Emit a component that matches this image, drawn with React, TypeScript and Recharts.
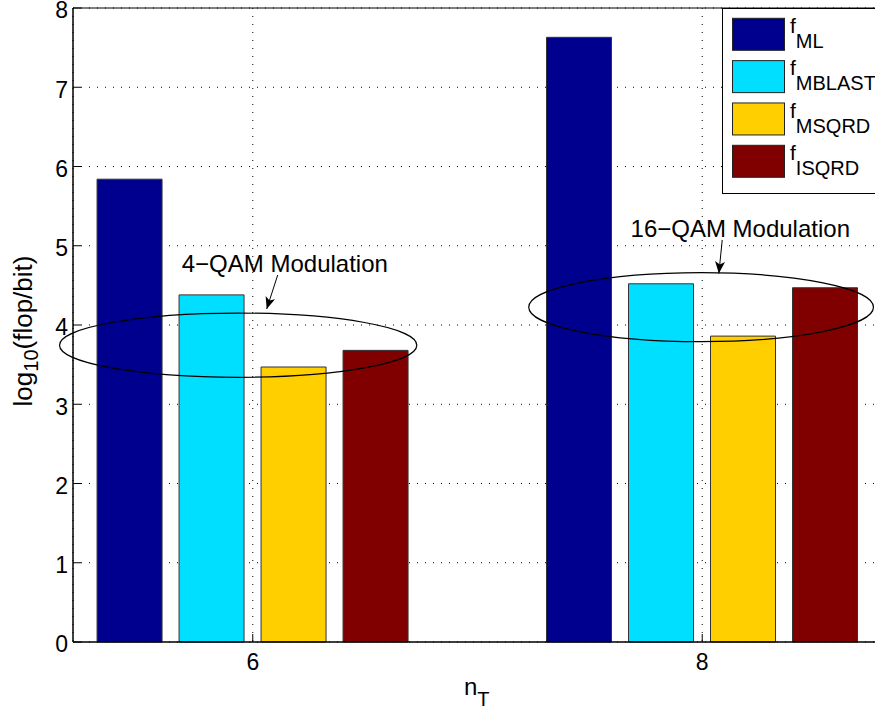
import {
  BarChart,
  Bar,
  XAxis,
  YAxis,
  CartesianGrid,
  ReferenceArea,
  ReferenceLine,
  ReferenceDot,
  Legend,
} from "recharts";

const FONT = "'Liberation Sans', Arial, Helvetica, sans-serif";

// n_T values on the x axis
const nT = [6, 8];
const yTicks = [0, 1, 2, 3, 4, 5, 6, 7, 8];

// log10(flop/bit) per algorithm
const fML = [5.84, 7.63];
const fMBLAST = [4.38, 4.52];
const fMSQRD = [3.47, 3.86];
const fISQRD = [3.68, 4.47];

const seriesKeys = ["ML", "MBLAST", "MSQRD", "ISQRD"];
const seriesColors = ["#00008F", "#00DFFF", "#FFCF00", "#800000"];

// annotation ellipses, in data units
const qam4Ellipse = { x1: 5.14, x2: 6.73, y1: 3.34, y2: 4.15 };
const qam16Ellipse = { x1: 7.228, x2: 8.762, y1: 3.79, y2: 4.66 };

const data = nT.map((n, i) => ({
  n,
  ML: fML[i],
  MBLAST: fMBLAST[i],
  MSQRD: fMSQRD[i],
  ISQRD: fISQRD[i],
}));

const ellipseShape = (p: any) => (
  <ellipse
    cx={p.x + p.width / 2}
    cy={p.y + p.height / 2}
    rx={p.width / 2}
    ry={p.height / 2}
    fill="none"
    stroke="#000"
    strokeWidth={1.2}
  />
);

const textShape = (label: string) => (p: any) => (
  <text x={p.cx} y={p.cy} fontSize={24} fontFamily={FONT} fill="#000">
    {label}
  </text>
);

const YTick = (p: any) => (
  <text x={p.x} y={p.y + 2} dy="0.36em" textAnchor="end" fontSize={23} fontFamily={FONT} fill="#000">
    {p.payload.value}
  </text>
);

const LegendBox = () => (
  <svg width={165} height={186} style={{ display: "block" }}>
    <rect x={0.5} y={0.5} width={164} height={185} fill="#fff" stroke="#000" />
    {seriesKeys.map((k, i) => {
      const top = 10.3 + i * 42.33;
      return (
        <g key={k}>
          <rect x={10.5} y={top} width={52} height={32} fill={seriesColors[i]} stroke="#222" />
          <text x={68} y={top + 14.7} fontSize={21} fontFamily={FONT} fill="#000">
            f
            <tspan dy={15} fontSize={20}>
              {k}
            </tspan>
          </text>
        </g>
      );
    })}
  </svg>
);

export default function App() {
  return (
    <div
      style={{
        position: "absolute",
        left: 0,
        top: 0,
        width: 875,
        height: 713,
        overflow: "hidden",
        background: "#fff",
      }}
    >
      <BarChart
        width={900}
        height={713}
        data={data}
        margin={{ top: 0, right: 18, bottom: 0, left: 0 }}
        barSize={65}
        barGap={17}
        style={{ fontFamily: FONT }}
      >
        <defs>
          <marker
            id="arrowHead"
            markerWidth={14}
            markerHeight={12}
            refX={12}
            refY={5}
            orient="auto"
            markerUnits="userSpaceOnUse"
          >
            <path d="M0,0 L12,5 L0,10 L3,5 z" fill="#000" />
          </marker>
        </defs>
        <CartesianGrid stroke="#000" strokeDasharray="1 7" />
        <XAxis
          dataKey="n"
          type="number"
          domain={[5.2, 8.8]}
          ticks={nT}
          interval={0}
          allowDataOverflow
          height={71}
          tickSize={-8}
          tickMargin={20}
          tick={{ fontSize: 23, fill: "#000" }}
          axisLine={{ stroke: "#000" }}
          tickLine={{ stroke: "#000" }}
          label={() => (
            <text x={464} y={695} fontSize={24} fontFamily={FONT} fill="#000">
              n
              <tspan dy={11} fontSize={20}>
                T
              </tspan>
            </text>
          )}
        />
        <XAxis
          xAxisId="top"
          orientation="top"
          dataKey="n"
          type="number"
          domain={[5.2, 8.8]}
          ticks={nT}
          interval={0}
          allowDataOverflow
          height={8}
          tickSize={-8}
          tick={false}
          axisLine={false}
          tickLine={{ stroke: "#000" }}
        />
        <YAxis
          type="number"
          domain={[0, 8]}
          ticks={yTicks}
          interval={0}
          width={73}
          tickSize={-8}
          tickMargin={13}
          tick={<YTick />}
          axisLine={{ stroke: "#000" }}
          tickLine={{ stroke: "#000" }}
          label={() => (
            <text
              x={32}
              y={331}
              transform="rotate(-90, 32, 331)"
              textAnchor="middle"
              fontSize={26}
              fontFamily={FONT}
              fill="#000"
            >
              log
              <tspan dy={6} fontSize={20}>
                10
              </tspan>
              <tspan dy={-6} fontSize={26}>
                (flop/bit)
              </tspan>
            </text>
          )}
        />
        {seriesKeys.map((k, i) => (
          <Bar
            key={k}
            dataKey={k}
            name={k}
            fill={seriesColors[i]}
            stroke="#333"
            strokeWidth={1}
            isAnimationActive={false}
          />
        ))}
        <ReferenceArea
          x1={5.2}
          x2={8.8}
          y1={0}
          y2={8}
          fill="none"
          fillOpacity={0}
          stroke="#000"
          strokeWidth={1}
          ifOverflow="visible"
          zIndex={600}
        />
        <ReferenceArea {...qam4Ellipse} ifOverflow="visible" shape={ellipseShape} zIndex={600} />
        <ReferenceArea {...qam16Ellipse} ifOverflow="visible" shape={ellipseShape} zIndex={600} />
        <ReferenceLine
          segment={[
            { x: 6.111, y: 4.631 },
            { x: 6.062, y: 4.202 },
          ]}
          stroke="#000"
          strokeWidth={1}
          markerEnd="url(#arrowHead)"
          ifOverflow="visible"
          zIndex={600}
        />
        <ReferenceLine
          segment={[
            { x: 8.089, y: 5.073 },
            { x: 8.074, y: 4.65 },
          ]}
          stroke="#000"
          strokeWidth={1}
          markerEnd="url(#arrowHead)"
          ifOverflow="visible"
          zIndex={600}
        />
        <ReferenceDot x={5.684} y={4.669} ifOverflow="visible" shape={textShape("4−QAM Modulation")} zIndex={600} />
        <ReferenceDot x={7.681} y={5.114} ifOverflow="visible" shape={textShape("16−QAM Modulation")} zIndex={600} />
        <Legend
          layout="vertical"
          align="center"
          verticalAlign="middle"
          content={() => <LegendBox />}
          wrapperStyle={{ position: "absolute", left: 722, top: 8, width: 165, height: 186 }}
        />
      </BarChart>
    </div>
  );
}
